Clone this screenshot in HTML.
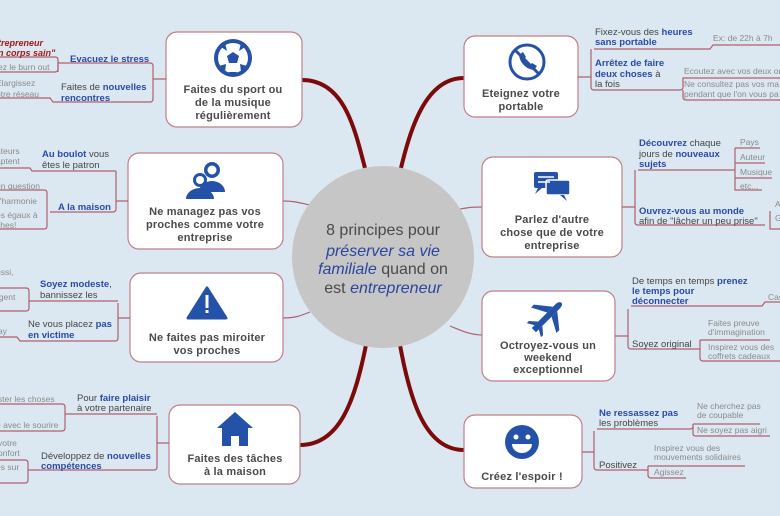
<!DOCTYPE html>
<html><head><meta charset="utf-8"><style>
html,body{margin:0;padding:0;background:#dce8f1;}
svg{display:block;font-family:"Liberation Sans",sans-serif;}
.t{font-size:11px;font-weight:bold;fill:#4a4a4a;text-anchor:middle;letter-spacing:.2px}
.b{font-size:9.5px;fill:#444}
.bb{font-weight:bold;fill:#2a4aa8}
.l{font-size:8.5px;fill:#8a8a8a}
.box{fill:#fff;stroke:#c08088;stroke-width:1.2}
.ln{fill:none;stroke:#b0606c;stroke-width:1.2}
.th{fill:none;stroke:#7d0a0a;stroke-width:4}
.ic{fill:#2452a8}
</style></head><body>
<svg width="780" height="516" viewBox="0 0 780 516">
<rect width="780" height="516" fill="#dce8f1"/>
<path class="th" d="M302,80 C345,80 355,130 366,172"/>
<path class="th" d="M464,78 C425,78 410,130 400,172"/>
<path class="th" d="M300,445 C340,445 355,400 366,345"/>
<path class="th" d="M464,450 C425,450 410,400 400,345"/>
<path class="ln" d="M283,201 C295,201 300,203 310,205" stroke-width="2"/>
<path class="ln" d="M283,318 C295,318 300,316 310,312" stroke-width="2"/>
<path class="ln" d="M482,207 C470,207 465,208 455,210" stroke-width="2"/>
<path class="ln" d="M482,335 C470,335 460,330 450,326" stroke-width="2"/>
<circle cx="383" cy="257" r="91" fill="#c6c6c6"/>
<g font-size="16" fill="#4a4a4a" text-anchor="middle">
<text x="383" y="235">8 principes pour</text>
<text x="383" y="256" font-style="italic" fill="#2a46a0">préserver sa vie</text>
<text x="383" y="274"><tspan font-style="italic" fill="#2a46a0">familiale</tspan> quand on</text>
<text x="383" y="293">est <tspan font-style="italic" fill="#2a46a0">entrepreneur</tspan></text>
</g>
<rect class="box" x="166" y="32" width="136" height="95" rx="11"/>
<rect class="box" x="128" y="153" width="155" height="96" rx="11"/>
<rect class="box" x="130" y="273" width="153" height="89" rx="11"/>
<rect class="box" x="169" y="405" width="131" height="79" rx="11"/>
<rect class="box" x="464" y="36" width="114" height="81" rx="11"/>
<rect class="box" x="482" y="157" width="140" height="100" rx="11"/>
<rect class="box" x="482" y="291" width="133" height="90" rx="11"/>
<rect class="box" x="464" y="415" width="118" height="73" rx="11"/>
<circle class="ic" cx="233" cy="58" r="19"/>
<circle cx="233" cy="58" r="15" fill="#fff"/>
<polygon class="ic" points="233,52 239,56 237,63 229,63 227,56"/>
<path class="ic" d="M221,47 l6,4 -2,-8z M245,47 l-6,4 2,-8z M219,66 l7,-2 -1,8z M247,66 l-7,-2 1,8z M233,76 l-4,-4 8,0z"/>
<circle class="ic" cx="212" cy="170" r="8"/><circle cx="212" cy="170" r="4.5" fill="#fff"/>
<path class="ic" d="M199,192 a13,11 0 0 1 26,0z"/>
<circle class="ic" cx="200" cy="180" r="7"/><circle cx="200" cy="180" r="4" fill="#fff"/>
<path class="ic" d="M186,199 a14,11 0 0 1 28,0z"/>
<polygon class="ic" points="207,288 226,318 188,318" stroke="#2452a8" stroke-width="3" stroke-linejoin="round"/>
<rect x="205.5" y="295" width="3" height="13" fill="#fff"/><rect x="205.5" y="310" width="3" height="3" fill="#fff"/>
<polygon class="ic" points="235,412 253,428 248,428 248,446 239,446 239,436 231,436 231,446 222,446 222,428 217,428"/>
<circle cx="527" cy="62" r="17" fill="none" stroke="#2452a8" stroke-width="3"/>
<line x1="515" y1="50" x2="539" y2="74" stroke="#2452a8" stroke-width="3"/>
<path class="ic" d="M519,55 l4,-3 3,5 -2,2 c1,3 3,5 6,6 l2,-2 5,3 -3,4 c-8,-1 -14,-7 -15,-15z"/>
<rect class="ic" x="534" y="172" width="24" height="16" rx="2"/>
<path class="ic" d="M538,188 l-3,6 7,-6z"/>
<rect class="ic" x="546" y="180" width="24" height="15" rx="2" stroke="#fff" stroke-width="1.5"/>
<path class="ic" d="M564,195 l3,6 -7,-6z"/>
<g stroke="#fff" stroke-width="1.5"><line x1="538" y1="177" x2="554" y2="177"/><line x1="538" y1="182" x2="550" y2="182"/></g>
<g transform="translate(548,316) rotate(-45)">
<path class="ic" d="M-20,-3 H14 C20,-3 21,3 14,3 H-20 Z"/>
<path class="ic" d="M2,-3 L-6,-18 H-2 L10,-3 Z M2,3 L-6,18 H-2 L10,3 Z"/>
<path class="ic" d="M-16,-3 L-20,-10 H-17 L-11,-3 Z M-16,3 L-20,10 H-17 L-11,3 Z"/>
</g>
<circle class="ic" cx="522" cy="442" r="17"/>
<circle cx="516" cy="437" r="2.5" fill="#fff"/><circle cx="528" cy="437" r="2.5" fill="#fff"/>
<path d="M512,444 a10,9 0 0 0 20,0z" fill="#fff"/>
<text class="t" x="233" y="93">Faites du sport ou</text>
<text class="t" x="233" y="106">de la musique</text>
<text class="t" x="233" y="119">régulièrement</text>
<text class="t" x="205" y="215">Ne managez pas vos</text>
<text class="t" x="205" y="228">proches comme votre</text>
<text class="t" x="205" y="241">entreprise</text>
<text class="t" x="207" y="341">Ne faites pas miroiter</text>
<text class="t" x="207" y="354">vos proches</text>
<text class="t" x="235" y="462">Faites des tâches</text>
<text class="t" x="235" y="475">à la maison</text>
<text class="t" x="521" y="97">Eteignez votre</text>
<text class="t" x="521" y="110">portable</text>
<text class="t" x="552" y="223">Parlez d'autre</text>
<text class="t" x="552" y="236">chose que de votre</text>
<text class="t" x="552" y="249">entreprise</text>
<text class="t" x="548" y="349">Octroyez-vous un</text>
<text class="t" x="548" y="361">weekend</text>
<text class="t" x="548" y="373">exceptionnel</text>
<text class="t" x="522" y="480">Créez l'espoir !</text>
<path class="ln" d="M166,79 H153 M58,72 L58,63 H150 Q153,63 153,66 V99 Q153,102 150,102 H53 L50,98 H0"/>
<path class="ln" d="M0,72 H55 Q58,72 58,69 V60 Q58,57 55,57 H0" stroke-width="1"/>
<text class="b bb" x="70" y="62">Evacuez le stress</text>
<text class="b" x="61" y="90">Faites de <tspan class="bb">nouvelles</tspan></text>
<text class="b bb" x="61" y="101">rencontres</text>
<text class="l" x="-2" y="70">ez le burn out</text>
<text class="l" x="-4" y="86">Elargissez</text>
<text class="l" x="-4" y="97">otre réseau</text>
<text x="-2" y="46" font-size="9" font-style="italic" font-weight="bold" fill="#a01818">trepreneur</text>
<text x="-2" y="56" font-size="9" font-style="italic" font-weight="bold" fill="#a01818">n corps sain"</text>
<path class="ln" d="M128,201 H116 M116,171 V209 Q116,212 113,212 H50 M0,168 H30 L32,171 H116 M0,190 H44 Q47,190 47,193 V226 Q47,229 44,229 H0"/>
<text class="b" x="42" y="157"><tspan class="bb">Au boulot</tspan> vous</text>
<text class="b" x="42" y="168">êtes le patron</text>
<text class="b bb" x="58" y="210">A la maison</text>
<text class="l" x="-4" y="154">ateurs</text><text class="l" x="-4" y="164">aptent</text>
<text class="l" x="-4" y="189">en question</text>
<text class="l" x="-2" y="204">l'harmonie</text>
<text class="l" x="-4" y="218">es égaux à</text><text class="l" x="-4" y="228">ches!</text>
<path class="ln" d="M130,318 H118 M118,303 V338 Q118,341 115,341 H20 L17,337 H0 M0,288 H26 Q29,288 29,291 V308 Q29,311 26,311 H0 M29,301 H118"/>
<text class="b" x="40" y="287"><tspan class="bb">Soyez modeste</tspan>,</text>
<text class="b" x="40" y="298">bannissez les</text>
<text class="b" x="28" y="327">Ne vous placez <tspan class="bb">pas</tspan></text>
<text class="b bb" x="28" y="338">en victime</text>
<text class="l" x="-4" y="275">ussi,</text>
<text class="l" x="-4" y="300">rgent</text>
<text class="l" x="-4" y="334">lay</text>
<path class="ln" d="M169,443 H157 M157,416 V467 Q157,470 154,470 H28 M0,404 H62 Q65,404 65,407 V428 Q65,431 62,431 H0 M65,414 H157 M0,460 H25 Q28,460 28,463 V480 Q28,483 25,483 H0"/>
<text class="b" x="77" y="401">Pour <tspan class="bb">faire plaisir</tspan></text>
<text class="b" x="77" y="411">à votre partenaire</text>
<text class="b" x="41" y="459">Développez de <tspan class="bb">nouvelles</tspan></text>
<text class="b bb" x="41" y="469">compétences</text>
<text class="l" x="-4" y="402">ister les choses</text>
<text class="l" x="-4" y="428">e avec le sourire</text>
<text class="l" x="-2" y="446">votre</text><text class="l" x="-2" y="456">onfort</text>
<text class="l" x="-4" y="470">es sur</text>
<path class="ln" d="M578,77 H591 M591,51 V66 M594,49 H710 L713,45 H780 M591,49 V87 Q591,90 594,90 H680 Q683,90 683,87 V78 H780 M683,90 V97 Q683,100 686,100 H780"/>
<text class="b" x="595" y="35">Fixez-vous des <tspan class="bb">heures</tspan></text>
<text class="b bb" x="595" y="45">sans portable</text>
<text class="l" x="713" y="41">Ex: de 22h à 7h</text>
<text class="b bb" x="595" y="66">Arrêtez de faire</text>
<text class="b bb" x="595" y="77">deux choses <tspan fill="#444" font-weight="normal">à</tspan></text>
<text class="b" x="595" y="87">la fois</text>
<text class="l" x="684" y="74">Ecoutez avec vos deux or</text>
<text class="l" x="684" y="87">Ne consultez pas vos ma</text>
<text class="l" x="684" y="97">pendant que l'on vous pa</text>
<path class="ln" d="M622,207 H635 M635,170 V222 Q635,225 638,225 H765 M638,170 H735 M735,148 V170 M735,148 H760 M735,163 H765 M735,178 H772 M735,170 V190 H762 M770,211 V229 H780"/>
<text class="b" x="639" y="146"><tspan class="bb">Découvrez</tspan> chaque</text>
<text class="b" x="639" y="157">jours de <tspan class="bb">nouveaux</tspan></text>
<text class="b bb" x="639" y="167">sujets</text>
<text class="l" x="740" y="145">Pays</text>
<text class="l" x="740" y="160">Auteur</text>
<text class="l" x="740" y="175">Musique</text>
<text class="l" x="740" y="189">etc...</text>
<text class="b bb" x="639" y="214">Ouvrez-vous au monde</text>
<text class="b" x="639" y="224">afin de "lâcher un peu prise"</text>
<text class="l" x="775" y="207">A</text><text class="l" x="775" y="221">G</text>
<path class="ln" d="M615,336 H628 M628,309 V346 Q628,349 631,349 H700 M631,306 H762 L765,302 H780 M700,340 V358 Q700,361 703,361 H780 M700,340 H770"/>
<text class="b" x="632" y="284">De temps en temps <tspan class="bb">prenez</tspan></text>
<text class="b bb" x="632" y="294">le temps pour</text>
<text class="b bb" x="632" y="304">déconnecter</text>
<text class="l" x="768" y="300">Cas</text>
<text class="b" x="632" y="347">Soyez original</text>
<text class="l" x="708" y="326">Faites preuve</text>
<text class="l" x="708" y="335">d'immagination</text>
<text class="l" x="708" y="350">Inspirez vous des</text>
<text class="l" x="708" y="359">coffrets cadeaux</text>
<path class="ln" d="M582,452 H594 M594,431 V467 Q594,470 597,470 H648 M597,429 H690 Q693,429 693,426 V427 M693,424 H760 M693,424 V434 Q693,436 696,436 H770 M648,466 H745 M648,466 V475 Q648,478 651,478 H686"/>
<text class="b bb" x="599" y="416">Ne ressassez pas</text>
<text class="b" x="599" y="426">les problèmes</text>
<text class="l" x="697" y="409">Ne cherchez pas</text>
<text class="l" x="697" y="418">de coupable</text>
<text class="l" x="697" y="433">Ne soyez pas aigri</text>
<text class="b" x="599" y="468">Positivez</text>
<text class="l" x="654" y="451">Inspirez vous des</text>
<text class="l" x="654" y="460">mouvements solidaires</text>
<text class="l" x="654" y="475">Agissez</text>
</svg>
</body></html>
